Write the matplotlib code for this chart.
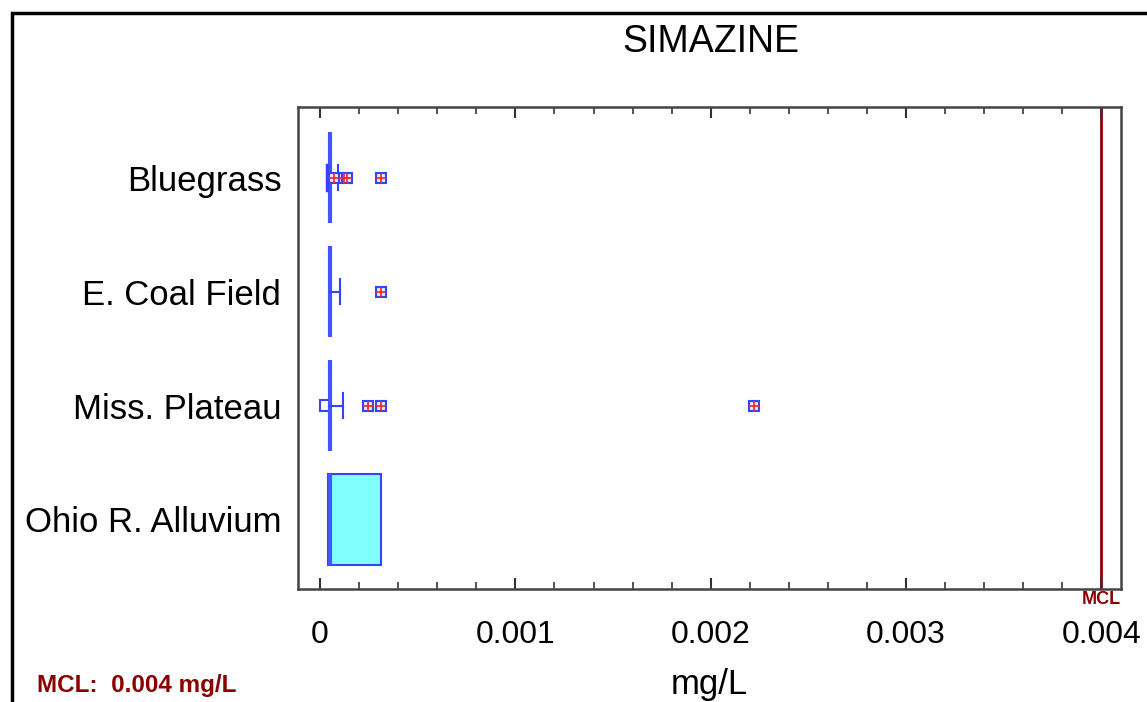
import matplotlib
matplotlib.use("Agg")
import matplotlib.pyplot as plt
from matplotlib.patches import Rectangle
from matplotlib.ticker import MultipleLocator

plt.rcParams['font.family'] = ['Liberation Sans', 'DejaVu Sans']

# data (mg/L)
regions = ["Bluegrass", "E. Coal Field", "Miss. Plateau", "Ohio R. Alluvium"]
ypos = [4, 3, 2, 1]
box_lo = [0.00005, 0.00005, 0.00005, 0.00004]
box_hi = [0.00005, 0.00005, 0.00005, 0.00031]
medians = [0.00005, 0.00005, 0.00005, 0.00005]
whisk_hi = [0.00009, 0.00010, 0.000116, None]
whisk_lo = [0.000035, None, None, None]
lower_box = [None, None, 0.0, None]   # small box under median (Miss. Plateau)
outliers = [
    [0.00007, 0.00012, 0.00014, 0.00031],
    [0.00031],
    [0.000245, 0.00031, 0.00222],
    [],
]
mcl = 0.004

blue = "#3344ff"
red = "#ff2020"
dark_red = "#8b0000"

fig = plt.figure(figsize=(11.47, 7.02), dpi=100)
ax = fig.add_axes([0.2598, 0.161, 0.7175, 0.6866])

half = 0.40
cap = 0.11
for i, y in enumerate(ypos):
    lo, hi = box_lo[i], box_hi[i]
    if hi > lo:
        ax.add_patch(Rectangle((lo, y - half), hi - lo, 2 * half,
                               facecolor="#80ffff", edgecolor=blue, lw=1.5, zorder=2))
    ax.plot([medians[i], medians[i]], [y - half, y + half], color="#4455ff", lw=3,
            solid_capstyle="butt", zorder=3)
    if whisk_hi[i] is not None:
        ax.plot([medians[i], whisk_hi[i]], [y, y], color=blue, lw=1.5, zorder=3)
        ax.plot([whisk_hi[i]] * 2, [y - cap, y + cap], color=blue, lw=1.5, zorder=3)
    if whisk_lo[i] is not None:
        ax.plot([whisk_lo[i]] * 2, [y - cap, y + cap], color=blue, lw=2.5, zorder=3)
    if lower_box[i] is not None:
        ax.add_patch(Rectangle((lower_box[i], y - 0.045), medians[i] - lower_box[i], 0.09,
                               facecolor="white", edgecolor=blue, lw=1.5, zorder=2))
    if outliers[i]:
        ax.plot(outliers[i], [y] * len(outliers[i]), ls="none", marker="s", ms=7,
                mfc="#e6e6ff", mec=blue, mew=1.5, zorder=4)
        ax.plot(outliers[i], [y] * len(outliers[i]), ls="none", marker="+", ms=7,
                mec=red, mew=1.2, zorder=5)

ax.axvline(mcl, color=dark_red, lw=2, zorder=1)
ax.text(mcl, 0.37, "MCL", color=dark_red, fontsize=13, fontweight="bold",
        ha="center", va="top", transform=ax.transData)

ax.set_xlim(-0.000113, 0.0041)
ax.set_ylim(0.39, 4.62)
ax.set_yticks(ypos)
ax.set_yticklabels(regions, fontsize=25)
ax.xaxis.set_major_locator(MultipleLocator(0.001))
ax.xaxis.set_minor_locator(MultipleLocator(0.0002))
ax.set_xticks([0, 0.001, 0.002, 0.003, 0.004])
ax.set_xticklabels(["0", "0.001", "0.002", "0.003", "0.004"], fontsize=23)
ax.tick_params(axis="x", which="major", direction="in", length=8, width=1.5,
               top=True, pad=22, color="#333333")
ax.tick_params(axis="x", which="minor", direction="in", length=5, width=1.2,
               top=True, color="#333333")
ax.tick_params(axis="y", length=0, pad=12)
for s in ax.spines.values():
    s.set_color("#444444")
    s.set_linewidth(1.8)

ax.set_xlabel("mg/L", fontsize=25, labelpad=13)
fig.text(0.62, 0.940, "SIMAZINE", fontsize=27, ha="center", va="center")
fig.text(0.032, 0.024, "MCL:  0.004 mg/L", color=dark_red, fontsize=17.5,
         fontweight="bold", ha="left", va="center")

# outer frame
fig.patches.append(Rectangle((12 / 1147, -0.1), 1.2, 1 - 13 / 702 + 0.1,
                             transform=fig.transFigure, fill=False,
                             edgecolor="black", lw=2.5))

fig.savefig("out.png", dpi=100)
